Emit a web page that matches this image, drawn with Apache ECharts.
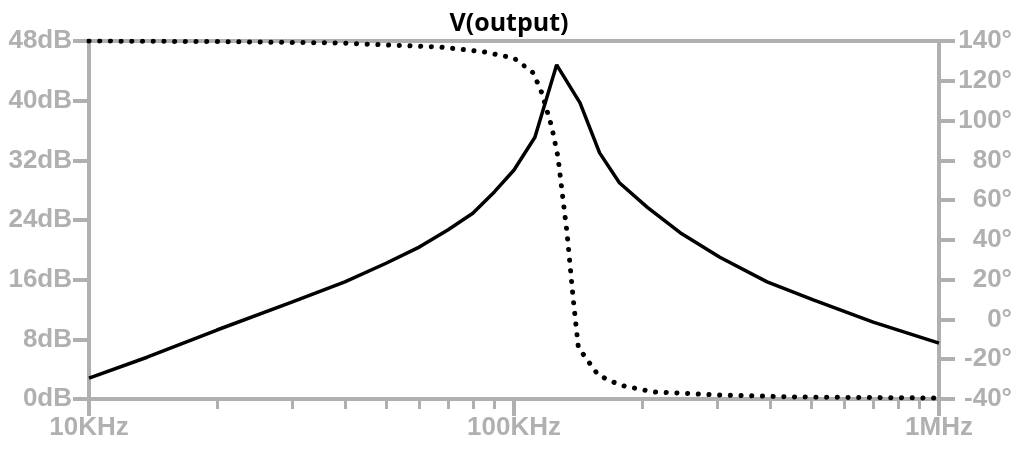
<!DOCTYPE html>
<html>
<head>
<meta charset="utf-8">
<script src="https://cdn.jsdelivr.net/npm/echarts@6/dist/echarts.min.js"></script>
<style>
  html, body { margin: 0; padding: 0; background: #fff; }
  #chart { width: 1018px; height: 450px; }
</style>
</head>
<body>
<div id="chart"></div>
<script>
  // magnitude trace (dB)
  const magFreq = [10000, 13700, 20000, 30000, 40000, 50000, 60000, 70000, 80000, 90000, 100000, 112000, 126000, 143000, 159000, 177000, 206000, 246000, 305000, 394000, 506000, 700000, 1000000]
  const magDb = [2.8, 5.6, 9.25, 13.0, 15.7, 18.2, 20.4, 22.7, 24.9, 27.8, 30.7, 35.1, 44.8, 39.7, 33.0, 29.0, 25.7, 22.3, 19.0, 15.7, 13.3, 10.3, 7.5]
  // phase trace (degrees)
  const phaseFreq = [10000, 20000, 39000, 50200, 67000, 85000, 100000, 111000, 116200, 122700, 126900, 129800, 133300, 137900, 141700, 147000, 157900, 177600, 212700, 246000, 300000, 470000, 953000, 1000000]
  const phaseDeg = [140, 139.7, 139, 138, 137, 134.5, 131.4, 124, 114, 96.8, 81.7, 64, 43.5, 9.8, -13.9, -18.9, -28, -33, -36.5, -37, -38, -39, -39.5, -39.6]
  // axis ticks
  const xMajorTicks = [10000, 100000, 1000000]
  const xTickLabels = ['10KHz', '100KHz', '1MHz']
  const xMinorTicks = [20000, 30000, 40000, 50000, 60000, 70000, 80000, 90000, 200000, 300000, 400000, 500000, 600000, 700000, 800000, 900000]

  const gray = '#b0b0b0'
  const font = 'Liberation Sans'

  const magData = magFreq.map((f, i) => [f, magDb[i]])
  const phaseData = phaseFreq.map((f, i) => [f, phaseDeg[i]])

  const options = {
    animation: false,
    title: {
      text: 'V(output)',
      left: 'center',
      top: 6,
      textStyle: {
        fontFamily: 'Open Sans',
        fontWeight: 'bold',
        fontSize: 25,
        color: '#000',
      },
    },
    grid: {
      left: 89,
      right: 79,
      top: 41,
      bottom: 51,
      show: true,
      borderColor: gray,
      borderWidth: 4,
    },
    xAxis: [
      {
        type: 'log',
        position: 'bottom',
        min: 10000,
        max: 1000000,
        axisLine: { onZero: false, lineStyle: { color: gray, width: 4 } },
        axisTick: { length: 17, lineStyle: { color: gray, width: 4 }, customValues: xMajorTicks },
        axisLabel: {
          customValues: xMajorTicks,
          formatter: (v) => xTickLabels[xMajorTicks.indexOf(v)] || '',
          color: gray,
          fontFamily: font,
          fontWeight: 'bold',
          fontSize: 26,
          margin: 16,
        },
        splitLine: { show: false },
      },
      {
        // minor ticks 2..9 of each decade
        type: 'log',
        position: 'bottom',
        min: 10000,
        max: 1000000,
        axisLine: { show: false, onZero: false },
        axisTick: { length: 10, lineStyle: { color: gray, width: 3 }, customValues: xMinorTicks },
        axisLabel: { show: false },
        splitLine: { show: false },
      },
    ],
    yAxis: [
      {
        type: 'value',
        min: 0,
        max: 48,
        interval: 8,
        axisLine: { show: true, lineStyle: { color: gray, width: 4 } },
        axisTick: { show: true, length: 16, lineStyle: { color: gray, width: 4 } },
        axisLabel: {
          formatter: '{value}dB',
          color: gray,
          fontFamily: font,
          fontWeight: 'bold',
          fontSize: 26,
          margin: 17,
        },
        splitLine: { show: false },
      },
      {
        type: 'value',
        position: 'right',
        min: -40,
        max: 140,
        interval: 20,
        axisLine: { show: true, lineStyle: { color: gray, width: 4 } },
        axisTick: { show: true, length: 16, lineStyle: { color: gray, width: 4 } },
        axisLabel: {
          formatter: '{value}°',
          align: 'right',
          color: gray,
          fontFamily: font,
          fontWeight: 'bold',
          fontSize: 26,
          margin: 73,
        },
        splitLine: { show: false },
      },
    ],
    series: [
      {
        name: 'phase',
        type: 'line',
        yAxisIndex: 1,
        data: phaseData,
        symbol: 'none',
        lineStyle: { color: '#000', width: 5, type: [0.1, 10.6], cap: 'round' },
      },
      {
        name: 'magnitude',
        type: 'line',
        yAxisIndex: 0,
        data: magData,
        symbol: 'none',
        lineStyle: { color: '#000', width: 3.5 },
      },
    ],
  }

  let chart
  const initChart = () => {
    const chart = echarts.init(document.getElementById('chart'))
    chart.setOption(options)
    return chart
  }
  chart = initChart()
  window.addEventListener('resize', function () {
    chart && chart.resize()
  })
</script>
</body>
</html>
